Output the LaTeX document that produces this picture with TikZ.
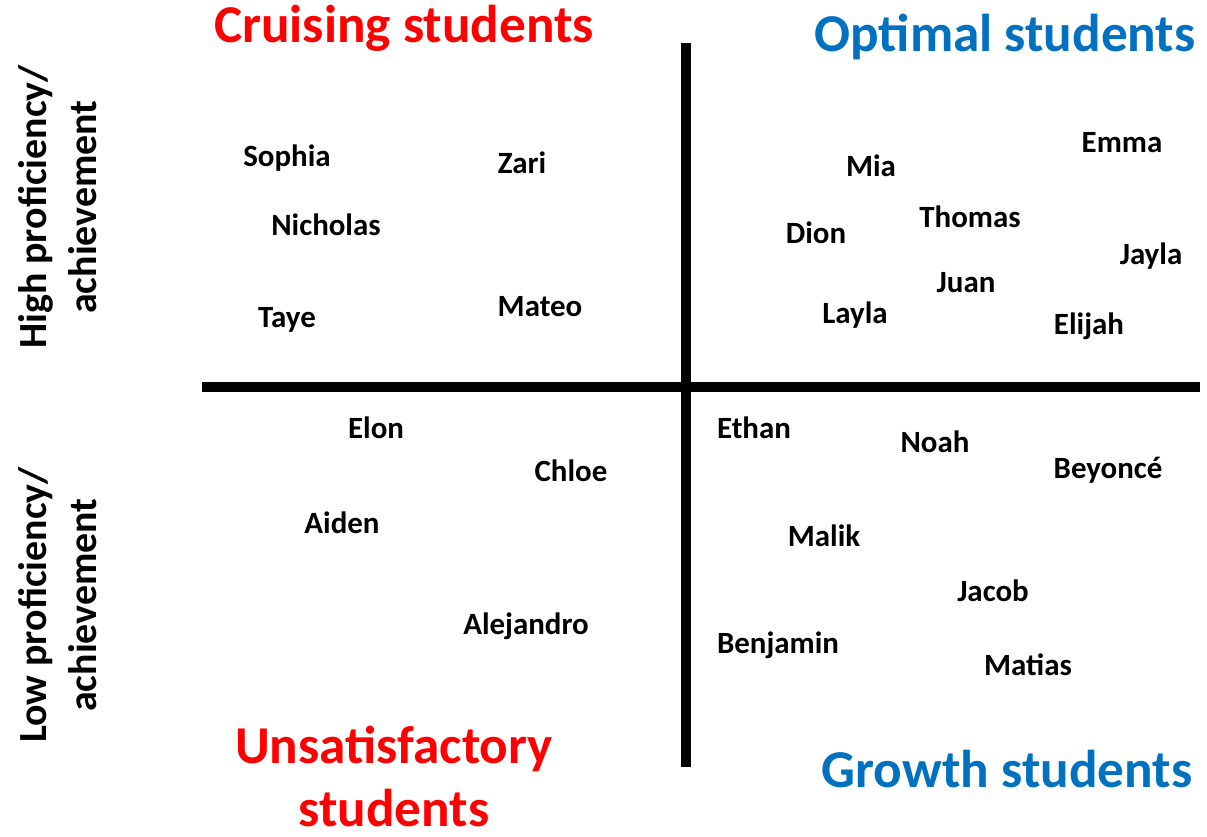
\documentclass[tikz,border=0pt]{standalone}
\usepackage{fontspec}
\setmainfont{Carlito}
\definecolor{cruisered}{RGB}{255,0,0}
\definecolor{optimalblue}{RGB}{0,112,192}

\begin{document}
\begin{tikzpicture}[x=0.02cm, y=-0.02cm,
  pupil/.style={font=\bfseries\fontsize{17.6}{21}\selectfont, inner sep=0pt, anchor=base},
  quad/.style={font=\bfseries\fontsize{30.3}{35.7}\selectfont, inner sep=0pt, align=center},
  axislabel/.style={font=\bfseries\fontsize{22.7}{28.3}\selectfont, inner sep=0pt, align=center, rotate=90, anchor=south},
  axis/.style={line width=5.7pt}]
\useasboundingbox (0,0) rectangle (1207,837);
\coordinate (top) at (686,43);
\coordinate (bottom) at (686,767);
\coordinate (left) at (202,387);
\coordinate (right) at (1200,387);
\draw[axis] (top) -- (bottom);
\draw[axis] (left) -- (right);

\node[quad, text=cruisered, anchor=base] (cruising) at (404,43) {Cruising students};
\node[quad, text=optimalblue, anchor=base] (optimal) at (1005,52) {Optimal students};
\node[quad, text=cruisered, anchor=south] (unsat) at (394,827) {Unsatisfactory\\students};
\node[quad, text=optimalblue, anchor=base] (growth) at (1007,787) {Growth students};

\node[axislabel] (high) at (97,207) {High proficiency/\\achievement};
\node[axislabel] (low) at (97,605) {Low proficiency/\\achievement};

\node[pupil] (sophia) at (287,167) {Sophia};
\node[pupil] (zari) at (522,174) {Zari};
\node[pupil] (nicholas) at (326,236) {Nicholas};
\node[pupil] (taye) at (287,328) {Taye};
\node[pupil] (mateo) at (540,317) {Mateo};

\node[pupil] (mia) at (871,177) {Mia};
\node[pupil] (emma) at (1122,153) {Emma};
\node[pupil] (thomas) at (970,228) {Thomas};
\node[pupil] (dion) at (816,244) {Dion};
\node[pupil] (jayla) at (1151,265) {Jayla};
\node[pupil] (juan) at (966,293) {Juan};
\node[pupil] (layla) at (855,324) {Layla};
\node[pupil] (elijah) at (1089,335) {Elijah};

\node[pupil] (elon) at (376,439) {Elon};
\node[pupil] (chloe) at (571,482) {Chloe};
\node[pupil] (aiden) at (342,534) {Aiden};
\node[pupil] (alejandro) at (526,634) {Alejandro};

\node[pupil] (ethan) at (754,439) {Ethan};
\node[pupil] (noah) at (935,453) {Noah};
\node[pupil] (beyonce) at (1108,479) {Beyoncé};
\node[pupil] (malik) at (824,547) {Malik};
\node[pupil] (jacob) at (993,602) {Jacob};
\node[pupil] (benjamin) at (778,653) {Benjamin};
\node[pupil] (matias) at (1028,675) {Matias};
\end{tikzpicture}
\end{document}
